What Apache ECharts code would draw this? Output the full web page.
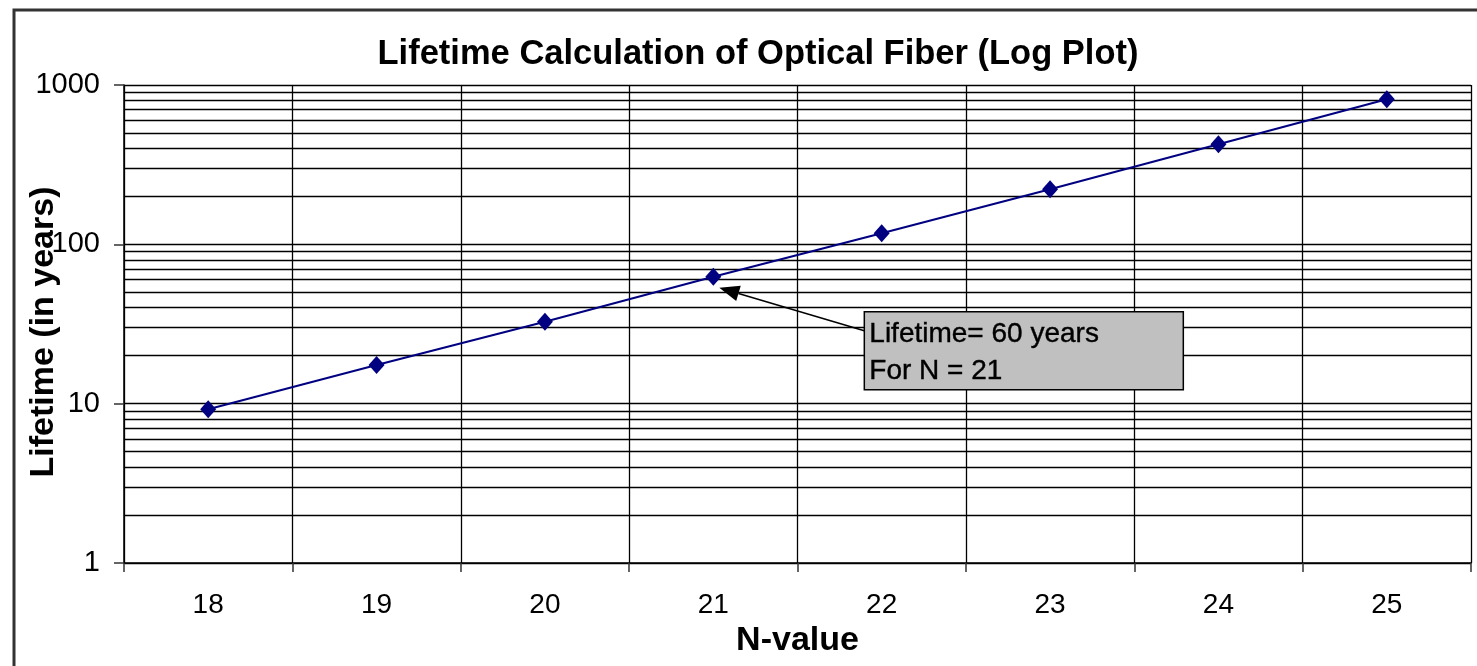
<!DOCTYPE html>
<html>
<head>
<meta charset="utf-8">
<script src="https://cdn.jsdelivr.net/npm/echarts@6/dist/echarts.min.js"></script>
<style>
html,body{margin:0;padding:0;background:#fff;}
#chart{width:1477px;height:666px;}
</style>
</head>
<body>
<div id="chart"></div>
<script>
const categories = ['18','19','20','21','22','23','24','25'];
const lifetimeYears = [9.22, 17.5, 32.7, 62.6, 117.3, 221.5, 424.6, 813];
const minorGridValues = [2,3,4,5,6,7,8,9,20,30,40,50,60,70,80,90,200,300,400,500,600,700,800,900];
const titleText = 'Lifetime Calculation of Optical Fiber (Log Plot)';
const xName = 'N-value';
const yName = 'Lifetime (in years)';
const noteLines = ['Lifetime= 60 years', 'For N = 21'];
const noteIndex = 3;

const chart = echarts.init(document.getElementById('chart'), null, {renderer: 'canvas'});
const FONT = '"Liberation Sans", Arial, Helvetica, sans-serif';

chart.setOption({
  animation: false,
  backgroundColor: '#fff',
  title: {
    text: titleText,
    left: 753, top: 32, textAlign: 'center',
    textStyle: {fontFamily: FONT, fontSize: 34.5, fontWeight: 'bold', color: '#000'}
  },
  grid: {left: 124, top: 85, right: 6, bottom: 103, containLabel: false, outerBoundsMode: 'none'},
  xAxis: {
    type: 'category',
    data: categories,
    boundaryGap: true,
    name: xName,
    nameLocation: 'middle',
    nameGap: 55,
    nameTextStyle: {fontFamily: FONT, fontSize: 34, fontWeight: 'bold', color: '#000'},
    axisLine: {show: true, lineStyle: {color: '#000', width: 1.5}},
    axisTick: {show: true, length: 9, inside: false, alignWithLabel: false, lineStyle: {color: '#333', width: 1.5}},
    axisLabel: {fontFamily: FONT, fontSize: 28, color: '#000', margin: 28},
    splitLine: {show: true, lineStyle: {color: '#000', width: 1.3}}
  },
  yAxis: {
    type: 'log',
    logBase: 10,
    min: 1, max: 1000,
    name: yName,
    nameLocation: 'middle',
    nameGap: 63,
    nameMoveOverlap: false,
    nameTextStyle: {fontFamily: FONT, fontSize: 34, fontWeight: 'bold', color: '#000', padding: [0, 16, 0, 0]},
    axisLine: {show: true, lineStyle: {color: '#000', width: 1.5}},
    axisTick: {show: true, length: 10, inside: false, lineStyle: {color: '#333', width: 1.5}},
    axisLabel: {fontFamily: FONT, fontSize: 29, color: '#000', margin: 24, formatter: v => String(Math.round(v))},
    splitLine: {show: true, lineStyle: {color: '#000', width: 1.3}},
    minorTick: {show: false},
    minorSplitLine: {show: false}
  },
  series: [{
    type: 'line',
    data: lifetimeYears,
    z: 5,
    symbol: 'diamond',
    symbolSize: [16, 18],
    lineStyle: {color: '#000080', width: 2},
    itemStyle: {color: '#000080'},
    emphasis: {disabled: true},
    markLine: {
      silent: true,
      z: 1,
      symbol: ['none', 'none'],
      label: {show: false},
      lineStyle: {color: '#000', width: 1.3, type: 'solid'},
      emphasis: {disabled: true},
      data: minorGridValues.map(v => ({yAxis: v}))
    }
  }]
});

// Annotation anchored to the N = 21 data point
const p = chart.convertToPixel({xAxisIndex: 0, yAxisIndex: 0}, [noteIndex, lifetimeYears[noteIndex]]);
const tip = [p[0] + 6, p[1] + 11];
const tail = [p[0] + 151, p[1] + 54];
const dx = tip[0] - tail[0], dy = tip[1] - tail[1];
const len = Math.sqrt(dx*dx + dy*dy);
const ux = dx/len, uy = dy/len;
const headL = 20, headW = 8;
const base = [tip[0] - ux*headL, tip[1] - uy*headL];
const left = [base[0] - uy*headW, base[1] + ux*headW];
const right = [base[0] + uy*headW, base[1] - ux*headW];
const boxX = p[0] + 151, boxY = p[1] + 35;

chart.setOption({
  graphic: [{
    type: 'rect',
    shape: {x: 14, y: 10, width: 1600, height: 800},
    style: {fill: 'none', stroke: '#333', lineWidth: 3},
    silent: true,
    z: 100
  }, {
    type: 'line',
    shape: {x1: tail[0], y1: tail[1], x2: base[0], y2: base[1]},
    style: {stroke: '#000', lineWidth: 1.5},
    silent: true, z: 50
  }, {
    type: 'polygon',
    shape: {points: [tip, left, right]},
    style: {fill: '#000'},
    silent: true, z: 50
  }, {
    type: 'rect',
    shape: {x: boxX, y: boxY, width: 319, height: 78},
    style: {fill: '#c0c0c0', stroke: '#000', lineWidth: 1.5},
    silent: true, z: 51
  }, {
    type: 'text',
    x: boxX + 5, y: boxY + 4,
    style: {
      text: noteLines.join('\n'),
      fontFamily: FONT, fontSize: 28, lineHeight: 37,
      fill: '#000', stroke: '#000', lineWidth: 0.4
    },
    silent: true, z: 52
  }]
});
</script>
</body>
</html>
